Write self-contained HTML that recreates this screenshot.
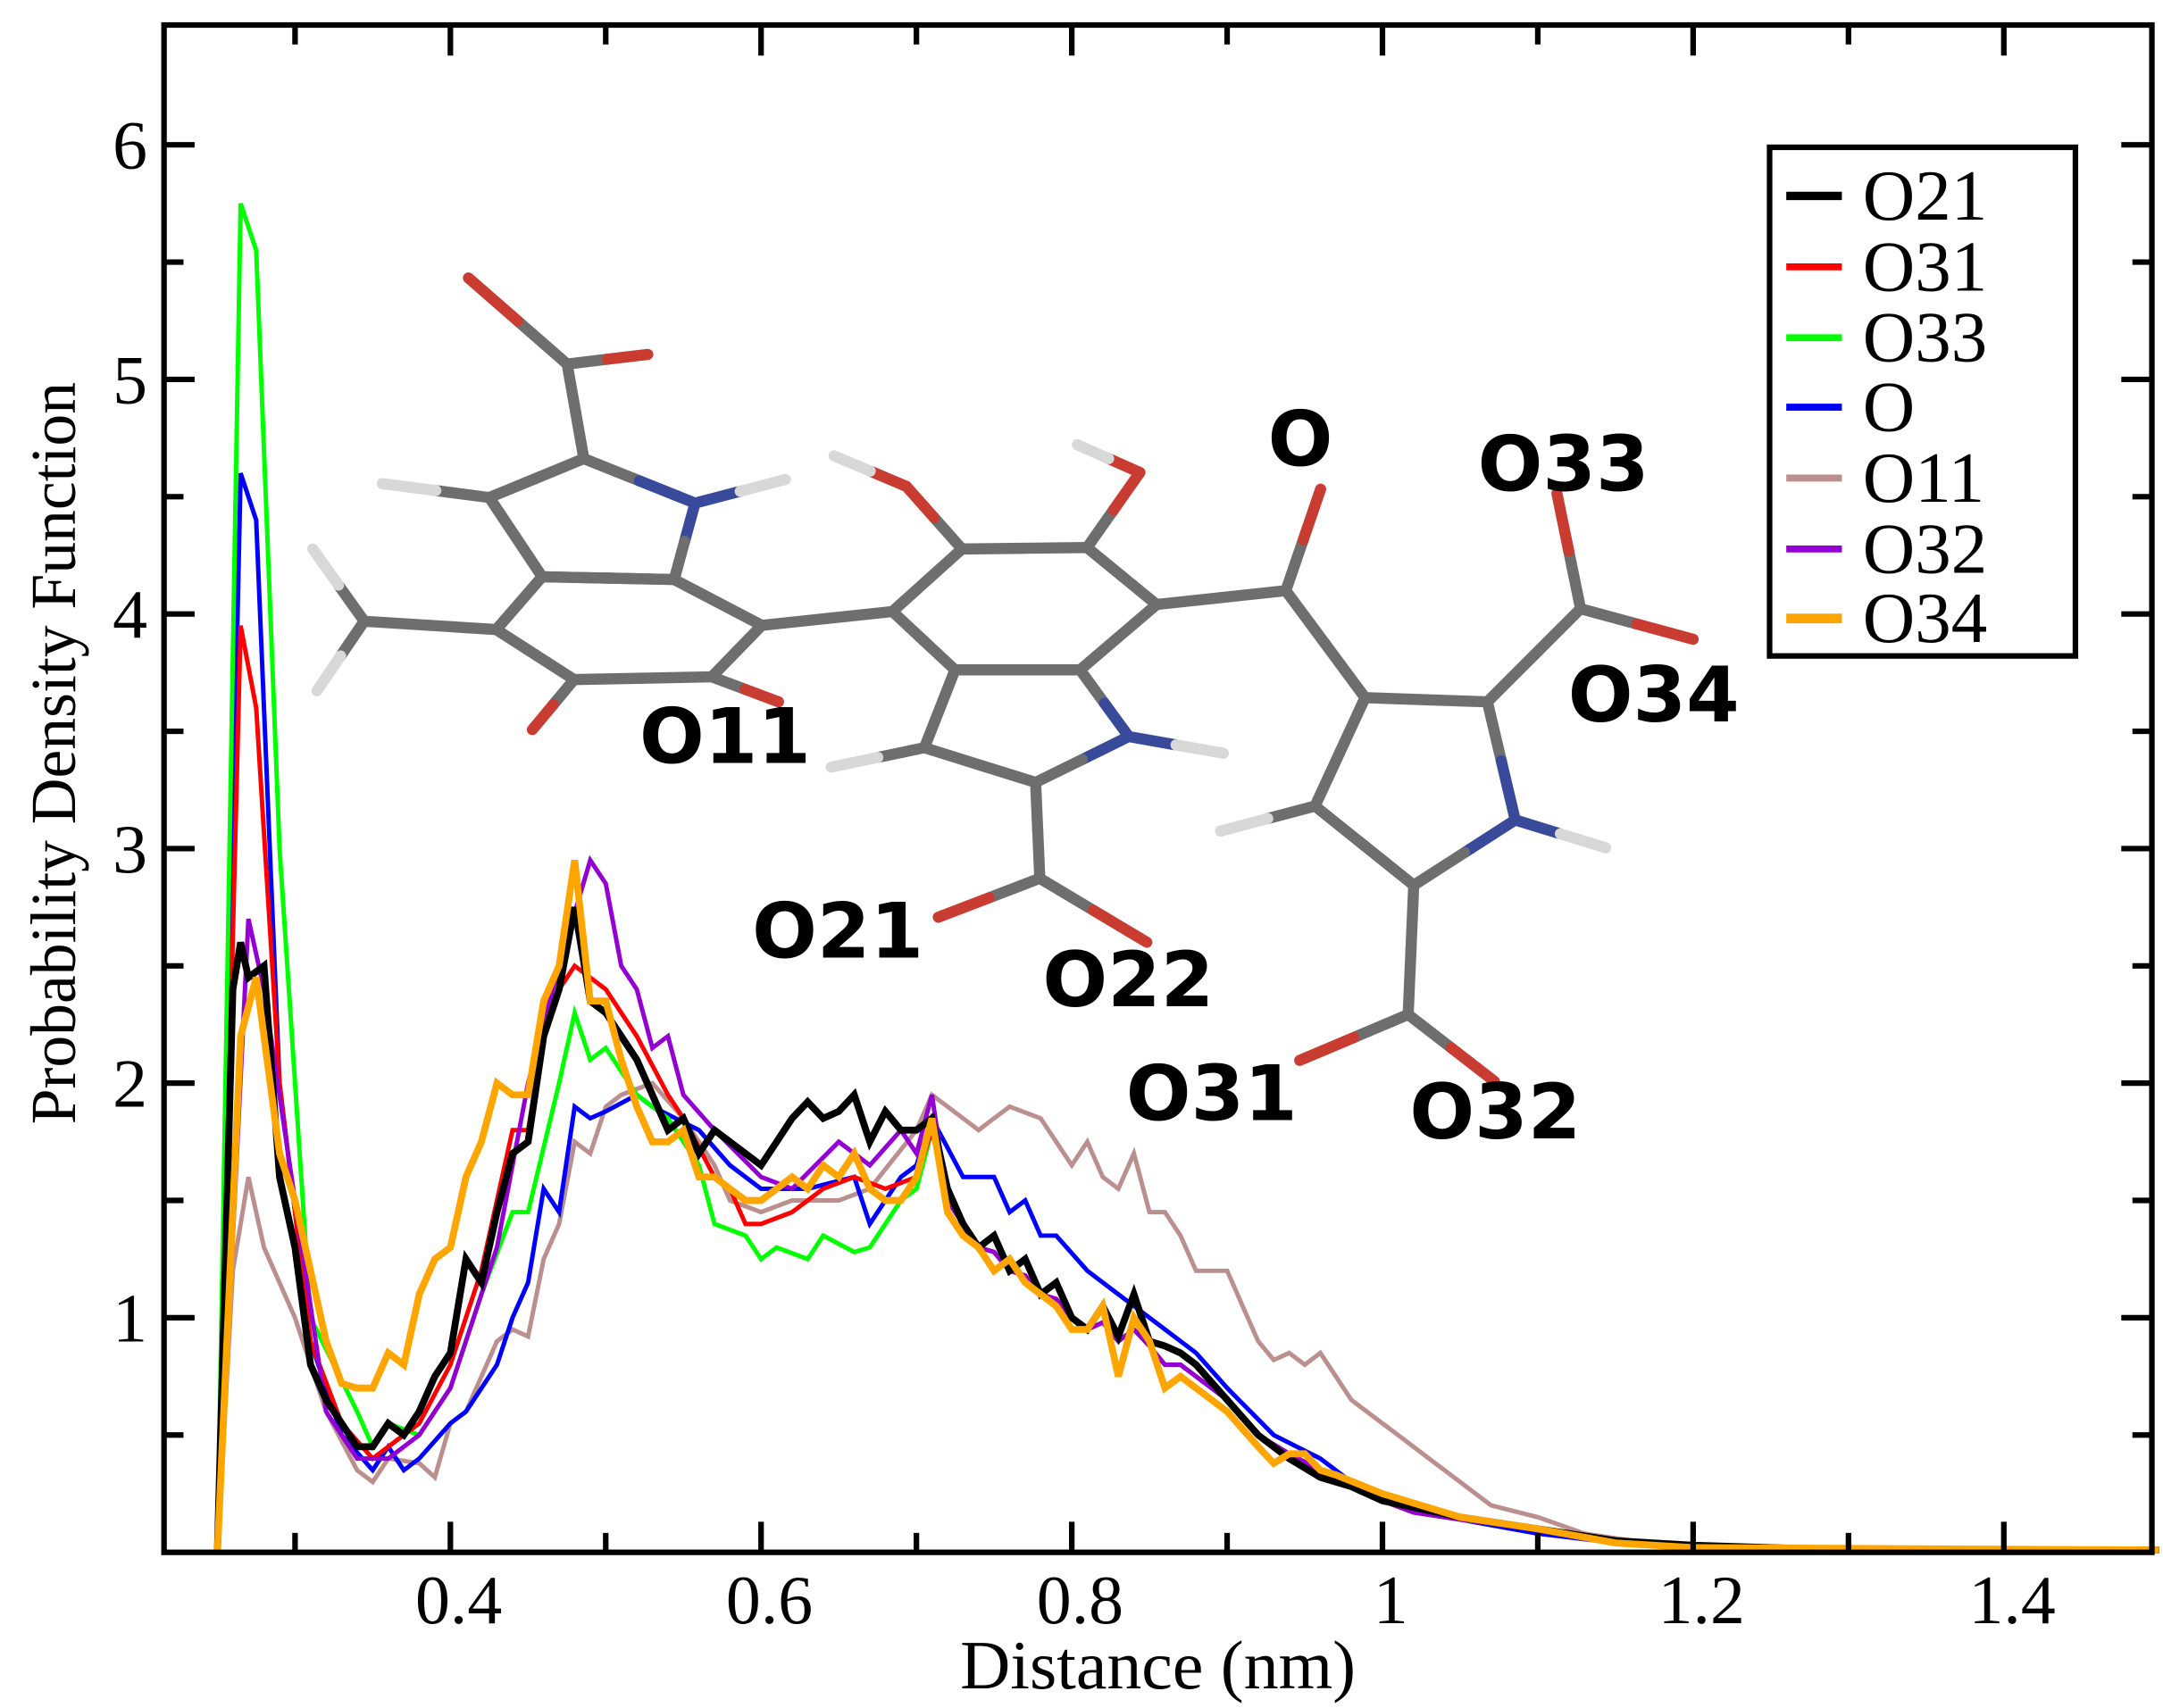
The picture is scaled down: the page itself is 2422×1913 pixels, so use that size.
<!DOCTYPE html>
<html><head><meta charset="utf-8"><style>
html,body{margin:0;padding:0;background:#fff;}
svg{display:block;}
.t{font-family:"Liberation Serif",serif;fill:#000;}
.b{font-family:"DejaVu Sans","Liberation Sans",sans-serif;font-weight:bold;fill:#000;}
</style></head><body>
<svg id="s" width="2422" height="1913" viewBox="0 0 1556 1229" preserveAspectRatio="none" xmlns="http://www.w3.org/2000/svg">
<rect x="0" y="0" width="1556" height="1229" fill="#fff"/>
<g id="mol" stroke-linecap="round" fill="none"></g>
<g id="curves" fill="none" stroke-linejoin="miter"></g>
<g id="axes"></g>
<g font-size="55">
<text class="b" x="460" y="549">O11</text>
<text class="b" x="541" y="689">O21</text>
<text class="b" x="750" y="724">O22</text>
<text class="b" x="810" y="806">O31</text>
<text class="b" x="1014" y="819">O32</text>
<text class="b" x="912" y="335">O</text>
<text class="b" x="1063" y="353">O33</text>
<text class="b" x="1128" y="519">O34</text>
</g>
<rect x="1273" y="106" width="220" height="366" fill="none" stroke="#000" stroke-width="4"/>
<g font-size="52" class="t">
<text class="t" x="1340" y="158">O21</text>
<text class="t" x="1340" y="209">O31</text>
<text class="t" x="1340" y="260">O33</text>
<text class="t" x="1340" y="310">O</text>
<text class="t" x="1340" y="361">O11</text>
<text class="t" x="1340" y="412">O32</text>
<text class="t" x="1340" y="462">O34</text>
</g>
<g stroke-width="5">
<line x1="1285" x2="1325" y1="141" y2="141" stroke="#000" stroke-width="6"/>
<line x1="1285" x2="1325" y1="192" y2="192" stroke="#f00"/>
<line x1="1285" x2="1325" y1="243" y2="243" stroke="#0f0"/>
<line x1="1285" x2="1325" y1="293" y2="293" stroke="#00f"/>
<line x1="1285" x2="1325" y1="344" y2="344" stroke="#bc8f8f"/>
<line x1="1285" x2="1325" y1="395" y2="395" stroke="#9400d3"/>
<line x1="1285" x2="1325" y1="445" y2="445" stroke="#ffa500" stroke-width="7"/>
</g>
<text class="t" x="833" y="1215" font-size="50" text-anchor="middle">Distance (nm)</text>
<text class="t" font-size="46" text-anchor="middle" transform="translate(54,542) rotate(-90)">Probability Density Function</text>
</svg>
<script>
var NS="http://www.w3.org/2000/svg";
function X(x){return 324+(x-0.4)*1117.5;}
function Y(y){return 1117-168.8*y;}
function el(p,tag,a){var e=document.createElementNS(NS,tag);for(var k in a)e.setAttribute(k,a[k]);p.appendChild(e);return e;}
var ax=document.getElementById('axes');
el(ax,'rect',{x:118,y:18,width:1430,height:1099,fill:'none',stroke:'#000','stroke-width':4});
var xt=[0.4,0.6,0.8,1,1.2,1.4];
for(var x=0.3;x<=1.51;x+=0.1){var px=X(x);if(px<120||px>1546)continue;
 var maj=xt.some(function(v){return Math.abs(v-x)<1e-6;});var L=maj?22:14;
 el(ax,'line',{x1:px,x2:px,y1:1117,y2:1117-L,stroke:'#000','stroke-width':4});
 el(ax,'line',{x1:px,x2:px,y1:18,y2:18+L,stroke:'#000','stroke-width':4});
 if(maj){var t=el(ax,'text',{x:px+6,y:1168,'font-size':50,'text-anchor':'middle','class':'t'});t.textContent=(Math.abs(x-1)<1e-6?'1':String(Math.round(x*10)/10));}}
for(var y=0.5;y<6.5;y+=0.5){var py=Y(y);var maj=Math.abs(y-Math.round(y))<1e-6;var L=maj?22:14;
 el(ax,'line',{x1:118,x2:118+L,y1:py,y2:py,stroke:'#000','stroke-width':4});
 el(ax,'line',{x1:1548,x2:1548-L,y1:py,y2:py,stroke:'#000','stroke-width':4});
 if(maj){var t=el(ax,'text',{x:106,y:py+17,'font-size':50,'text-anchor':'end','class':'t'});t.textContent=String(Math.round(y));}}
var mol=document.getElementById('mol');
function bond(a,b,c1,c2){var m=[(a[0]+b[0])/2,(a[1]+b[1])/2];
 el(mol,'line',{x1:a[0],y1:a[1],x2:m[0],y2:m[1],stroke:c1||'#6e6e6e','stroke-width':8});
 el(mol,'line',{x1:m[0],y1:m[1],x2:b[0],y2:b[1],stroke:c2||'#6e6e6e','stroke-width':8});}
var G='#6e6e6e',R='#c83c32',H='#d8d8d8',N='#3a4a9a';
function poly(ps,cols){for(var i=0;i<ps.length;i++){var a=ps[i],b=ps[(i+1)%ps.length];bond(a,b,cols?cols[i]:G,cols?cols[(i+1)%ps.length]:G);}}
poly([[420,330],[500,362],[485,417],[390,415],[352,358]],[G,N,G,G,G]);
bond([420,330],[408,262]);bond([408,262],[337,200],G,R);bond([408,262],[466,255],G,R);
bond([352,358],[275,348],G,H);bond([500,362],[565,345],N,H);
poly([[390,415],[485,417],[548,450],[512,487],[413,489],[357,453]]);
bond([357,453],[262,447]);bond([262,447],[225,395],G,H);bond([262,447],[228,497],G,H);
bond([413,489],[383,525],G,R);bond([512,487],[560,505],G,R);
bond([548,450],[642,440]);
poly([[642,440],[692,395],[782,394],[832,435],[777,482],[687,482]]);
bond([692,395],[652,350],G,R);bond([652,350],[600,328],R,H);
bond([782,394],[820,340],G,R);bond([820,340],[775,320],R,H);
poly([[687,482],[777,482],[812,530],[745,563],[665,538]],[G,G,N,G,G]);
bond([812,530],[880,542],N,H);bond([665,538],[598,552],G,H);
bond([745,563],[748,632]);bond([748,632],[675,660],G,R);bond([748,632],[825,678],G,R);
bond([832,435],[925,425]);bond([925,425],[950,352],G,R);bond([925,425],[982,502]);
poly([[982,502],[1070,505],[1090,590],[1017,637],[946,580]],[G,G,N,G,G]);
bond([1070,505],[1137,438]);bond([1137,438],[1120,355],G,R);bond([1137,438],[1218,460],G,R);
bond([1090,590],[1155,610],N,H);bond([946,580],[878,598],G,H);
bond([1017,637],[1013,730]);bond([1013,730],[935,763],G,R);bond([1013,730],[1075,778],G,R);
var tail=[[0.73,1.4],[0.74,1.3],[0.75,1.28],[0.76,1.2],[0.77,1.18],[0.78,1.1],[0.79,1.08],[0.8,1.0],[0.81,0.95],[0.82,0.98],[0.83,0.9],[0.84,0.95],[0.85,0.88],[0.86,0.8],[0.87,0.8],[0.88,0.75],[0.9,0.65],[0.92,0.5],[0.94,0.42],[0.96,0.35],[0.98,0.28],[1.0,0.22],[1.02,0.17],[1.05,0.14],[1.1,0.1],[1.15,0.05],[1.2,0.03],[1.3,0.01],[1.5,0.01]];
function wt(a){return a.concat(tail);}
var D={
k:[[0.25,0],[0.26,2.4],[0.265,2.6],[0.27,2.45],[0.28,2.5],[0.29,1.6],[0.30,1.3],[0.31,0.8],[0.32,0.65],[0.33,0.55],[0.34,0.45],[0.35,0.45],[0.36,0.55],[0.37,0.5],[0.38,0.6],[0.39,0.75],[0.40,0.85],[0.41,1.25],[0.42,1.15],[0.43,1.45],[0.44,1.7],[0.45,1.75],[0.46,2.2],[0.47,2.4],[0.48,2.75],[0.49,2.35],[0.50,2.3],[0.51,2.2],[0.52,2.1],[0.53,1.95],[0.54,1.8],[0.55,1.85],[0.56,1.7],[0.57,1.8],[0.58,1.75],[0.59,1.7],[0.60,1.65],[0.61,1.75],[0.62,1.85],[0.63,1.92],[0.64,1.85],[0.65,1.88],[0.66,1.95],[0.67,1.75],[0.68,1.88],[0.69,1.8],[0.70,1.8],[0.71,1.85],[0.72,1.55],[0.73,1.4],[0.74,1.3],[0.75,1.35],[0.76,1.2],[0.77,1.25],[0.78,1.1],[0.79,1.15],[0.80,1.0],[0.81,0.95],[0.82,1.05],[0.83,0.92],[0.84,1.1],[0.85,0.9],[0.86,0.88],[0.87,0.85],[0.88,0.8],[0.9,0.65],[0.92,0.5],[0.94,0.4],[0.96,0.32],[0.98,0.28],[1.0,0.22],[1.05,0.15],[1.1,0.1],[1.15,0.05],[1.2,0.03],[1.3,0.01],[1.5,0.01]],
r:wt([[0.25,0],[0.265,3.95],[0.275,3.6],[0.29,2.0],[0.31,0.9],[0.33,0.55],[0.35,0.4],[0.36,0.45],[0.38,0.55],[0.4,0.8],[0.42,1.2],[0.44,1.8],[0.45,1.8],[0.46,2.2],[0.47,2.4],[0.48,2.5],[0.49,2.45],[0.5,2.4],[0.51,2.3],[0.52,2.2],[0.54,1.95],[0.55,1.85],[0.57,1.6],[0.58,1.55],[0.59,1.4],[0.6,1.4],[0.62,1.45],[0.64,1.55],[0.66,1.6],[0.68,1.55],[0.7,1.6],[0.71,1.8],[0.72,1.5]]),
g:wt([[0.25,0],[0.265,5.75],[0.275,5.55],[0.29,3.0],[0.31,1.0],[0.34,0.6],[0.35,0.45],[0.36,0.55],[0.38,0.5],[0.4,0.7],[0.42,1.1],[0.44,1.45],[0.45,1.45],[0.47,2.0],[0.48,2.3],[0.49,2.1],[0.5,2.15],[0.52,1.95],[0.54,1.85],[0.56,1.65],[0.57,1.4],[0.59,1.35],[0.6,1.25],[0.61,1.3],[0.63,1.25],[0.64,1.35],[0.66,1.28],[0.67,1.3],[0.69,1.5],[0.7,1.55],[0.71,1.8],[0.72,1.5]]),
b:[[0.25,0],[0.265,4.6],[0.275,4.4],[0.29,2.0],[0.31,0.9],[0.33,0.5],[0.35,0.35],[0.36,0.45],[0.37,0.35],[0.38,0.4],[0.4,0.55],[0.41,0.6],[0.43,0.8],[0.44,1.0],[0.45,1.15],[0.46,1.55],[0.47,1.45],[0.48,1.9],[0.49,1.85],[0.5,1.88],[0.52,1.95],[0.53,1.9],[0.56,1.8],[0.58,1.65],[0.6,1.55],[0.63,1.55],[0.66,1.6],[0.67,1.4],[0.69,1.6],[0.7,1.65],[0.71,1.85],[0.73,1.6],[0.75,1.6],[0.76,1.45],[0.77,1.5],[0.78,1.35],[0.79,1.35],[0.81,1.2],[0.83,1.1],[0.85,1.0],[0.88,0.85],[0.9,0.7],[0.93,0.5],[0.96,0.4],[0.98,0.3],[1.0,0.22],[1.05,0.14],[1.1,0.08],[1.15,0.04],[1.2,0.02],[1.5,0.01]],
n:[[0.25,0],[0.26,1.2],[0.27,1.6],[0.28,1.3],[0.3,1.0],[0.32,0.6],[0.34,0.35],[0.35,0.3],[0.36,0.4],[0.38,0.38],[0.39,0.32],[0.4,0.55],[0.41,0.6],[0.43,0.9],[0.44,0.95],[0.45,0.92],[0.46,1.25],[0.47,1.4],[0.48,1.75],[0.49,1.7],[0.5,1.9],[0.51,1.95],[0.53,2.0],[0.55,1.85],[0.57,1.65],[0.58,1.5],[0.6,1.45],[0.62,1.5],[0.65,1.5],[0.67,1.55],[0.7,1.8],[0.71,1.95],[0.73,1.85],[0.74,1.8],[0.75,1.85],[0.76,1.9],[0.78,1.85],[0.79,1.75],[0.8,1.65],[0.81,1.75],[0.82,1.6],[0.83,1.55],[0.84,1.7],[0.85,1.45],[0.86,1.45],[0.87,1.35],[0.88,1.2],[0.9,1.2],[0.91,1.05],[0.92,0.9],[0.93,0.82],[0.94,0.85],[0.95,0.8],[0.96,0.85],[0.97,0.75],[0.98,0.65],[1.0,0.55],[1.01,0.5],[1.03,0.4],[1.05,0.3],[1.07,0.2],[1.1,0.15],[1.13,0.08],[1.17,0.04],[1.25,0.02],[1.5,0.01]],
p:wt([[0.25,0],[0.27,2.7],[0.28,2.4],[0.3,1.5],[0.32,0.6],[0.34,0.4],[0.36,0.4],[0.38,0.5],[0.4,0.7],[0.43,1.3],[0.45,2.0],[0.47,2.5],[0.49,2.95],[0.5,2.85],[0.51,2.5],[0.52,2.4],[0.53,2.15],[0.54,2.2],[0.55,1.95],[0.57,1.8],[0.6,1.6],[0.62,1.55],[0.65,1.75],[0.67,1.65],[0.69,1.8],[0.7,1.7],[0.71,1.95],[0.72,1.5]]),
o:[[0.25,0],[0.265,2.2],[0.275,2.45],[0.29,1.7],[0.3,1.5],[0.32,0.9],[0.33,0.72],[0.34,0.7],[0.35,0.7],[0.36,0.85],[0.37,0.8],[0.38,1.1],[0.39,1.25],[0.4,1.3],[0.41,1.6],[0.42,1.75],[0.43,2.0],[0.44,1.95],[0.45,1.95],[0.46,2.35],[0.47,2.5],[0.48,2.95],[0.49,2.35],[0.5,2.35],[0.51,2.1],[0.52,1.9],[0.53,1.75],[0.54,1.75],[0.55,1.8],[0.56,1.6],[0.57,1.6],[0.58,1.55],[0.59,1.5],[0.6,1.5],[0.61,1.55],[0.62,1.6],[0.63,1.55],[0.64,1.65],[0.65,1.6],[0.66,1.7],[0.67,1.55],[0.68,1.5],[0.69,1.5],[0.7,1.6],[0.71,1.85],[0.72,1.45],[0.73,1.35],[0.74,1.3],[0.75,1.2],[0.76,1.25],[0.77,1.15],[0.78,1.1],[0.79,1.05],[0.8,0.95],[0.81,0.95],[0.82,1.05],[0.83,0.75],[0.84,1.0],[0.85,0.9],[0.86,0.7],[0.87,0.75],[0.88,0.7],[0.9,0.6],[0.92,0.45],[0.93,0.38],[0.94,0.42],[0.95,0.42],[0.96,0.35],[0.97,0.33],[1.0,0.25],[1.05,0.15],[1.1,0.1],[1.15,0.04],[1.2,0.02],[1.5,0.01]]
};
var cv=document.getElementById('curves');
var order=[['n','#bc8f8f',3.2],['b','#00f',3.2],['g','#0f0',3.2],['r','#f00',3.2],['p','#9400d3',3.2],['k','#000',5],['o','#ffa500',5]];
order.forEach(function(o){var pts=D[o[0]].map(function(p){return X(p[0]).toFixed(1)+','+Y(p[1]).toFixed(1);}).join(' ');
 el(cv,'polyline',{points:pts,stroke:o[1],'stroke-width':o[2]});});
</script>
</body></html>
